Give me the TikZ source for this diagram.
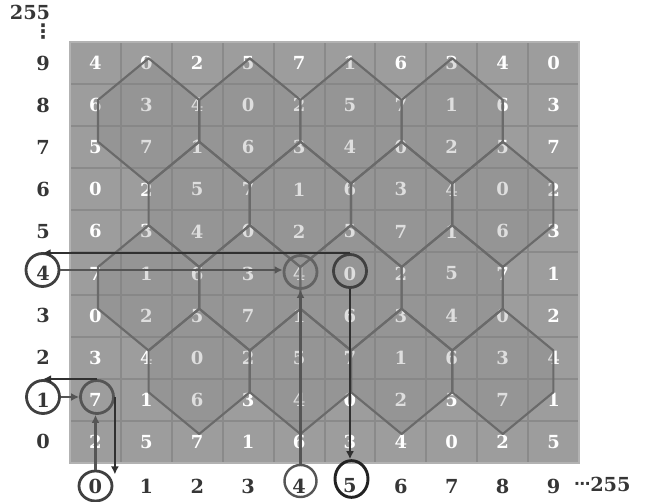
\documentclass[tikz,border=0pt]{standalone}
\usepackage{fontspec}
\setmainfont{DejaVu Serif}
\newfontfamily\symfont{DejaVu Sans}
\usetikzlibrary{arrows.meta,calc,shapes.geometric}
\definecolor{cellbg}{HTML}{9D9D9D}
\definecolor{cellline}{HTML}{8A8A8A}
\definecolor{gridborder}{HTML}{B2B2B2}
\definecolor{hexline}{HTML}{6A6A6A}
\definecolor{labtext}{HTML}{363636}
\definecolor{darkarrow}{HTML}{303030}
\definecolor{midarrow}{HTML}{555555}
\definecolor{ringdark}{HTML}{404040}
\definecolor{ringmid}{HTML}{555555}
\definecolor{ringlight}{HTML}{636363}
\definecolor{ringblack}{HTML}{222222}
\begin{document}
\begin{tikzpicture}[x=0.75pt,y=-0.75pt,
  cell/.style={draw=cellline, line width=1.5pt, fill=cellbg, minimum width=38.175pt, minimum height=31.575pt, inner sep=0pt, outer sep=0pt, text=white, font=\fontsize{13.5}{15}\selectfont\bfseries},
  lab/.style={text=labtext, font=\fontsize{14.5}{16}\selectfont\bfseries, inner sep=0pt},
  hexfill/.style={fill=black!50, fill opacity=0.26},
  hexedge/.style={draw=hexline, line width=1.6pt, line join=round},
  ring/.style={circle, draw=#1, line width=2.1pt, minimum size=24.75pt, inner sep=0pt},
  qarrow/.style={draw=midarrow, line width=1.8pt, -{Latex[length=6pt,width=6pt]}},
  aarrow/.style={draw=darkarrow, line width=1.9pt, -{Latex[length=6pt,width=6pt]}}
]
\useasboundingbox (0,0) rectangle (647,502);

% cells
\foreach \j/\ds in {9/{4,0,2,5,7,1,6,3,4,0}, 8/{6,3,4,0,2,5,7,1,6,3}, 7/{5,7,1,6,3,4,0,2,5,7}, 6/{0,2,5,7,1,6,3,4,0,2}, 5/{6,3,4,0,2,5,7,1,6,3}, 4/{7,1,6,3,4,0,2,5,7,1}, 3/{0,2,5,7,1,6,3,4,0,2}, 2/{3,4,0,2,5,7,1,6,3,4}, 1/{7,1,6,3,4,0,2,5,7,1}, 0/{2,5,7,1,6,3,4,0,2,5}}{
  \foreach \d [count=\i from 0] in \ds {
    \node[cell] (c-\i-\j) at ({95.45+50.9*\i},{441.95-42.1*\j}) {\d};
  }
}
\draw[gridborder, line width=1.5pt] (c-0-9.north west) rectangle (c-9-0.south east);

% hexagon fills
\foreach \t/\cols in {9/{1,3,5,7}, 7/{2,4,6,8}, 5/{1,3,5,7}, 3/{2,4,6,8}} {
  \foreach \c in \cols {
    \fill[hexfill] ({98+50.6*\c},{434-41.75*\t}) -- ({98+50.6*(\c+1)},{434-41.75*(\t-1)}) -- ({98+50.6*(\c+1)},{434-41.75*(\t-2)}) -- ({98+50.6*\c},{434-41.75*(\t-3)}) -- ({98+50.6*(\c-1)},{434-41.75*(\t-2)}) -- ({98+50.6*(\c-1)},{434-41.75*(\t-1)}) -- cycle;
  }
}
% hexagon edges
\foreach \t/\cols in {9/{1,3,5,7}, 7/{2,4,6,8}, 5/{1,3,5,7}, 3/{2,4,6,8}} {
  \foreach \c in \cols {
    \draw[hexedge] ({98+50.6*\c},{434-41.75*\t}) -- ({98+50.6*(\c+1)},{434-41.75*(\t-1)}) -- ({98+50.6*(\c+1)},{434-41.75*(\t-2)}) -- ({98+50.6*\c},{434-41.75*(\t-3)}) -- ({98+50.6*(\c-1)},{434-41.75*(\t-2)}) -- ({98+50.6*(\c-1)},{434-41.75*(\t-1)}) -- cycle;
  }
}

% axis labels
\foreach \j in {0,...,9} \node[lab] (r-\j) at (43,{441.95-42.1*\j}) {\j};
\foreach \i in {0,...,9} \node[lab] (k-\i) at ({95.45+50.9*\i},486) {\i};
\node[lab] (r-top) at (30,12) {255};
\node[lab, font=\fontsize{15}{16}\selectfont\bfseries\symfont] (r-dots) at (43,32) {⋮};
\node[lab, anchor=west] (k-end) at (574,484) {{\symfont\fontsize{12}{13}\selectfont\bfseries\raisebox{1.5pt}{⋯}}255};

% rings
\node[ring=ringdark] (o-r4) at (42.5,270) {};
\node[ring=ringdark] (o-r1) at (43,397) {};
\node[ellipse, draw=ringdark, line width=2.1pt, minimum width=24.75pt, minimum height=22.5pt, inner sep=0pt] (o-c0) at (95.5,486) {};
\node[ring=ringmid, line width=1.8pt, minimum size=24pt] (o-c4) at (300.5,481) {};
\node[ellipse, draw=ringblack, line width=2.2pt, minimum width=24.75pt, minimum height=27.5pt, inner sep=0pt] (o-c5) at (351.5,479) {};
\node[ring=ringmid] (o-g7) at (97,397) {};
\node[ring=ringlight] (o-g4) at (300.5,272) {};
\node[ring=ringdark] (o-g0) at (350,271) {};

% arrows
\draw[qarrow] (o-r4.east) -- (o-r4.east -| o-g4.west);
\draw[aarrow] (o-g0.north) -- (o-g0.north -| o-r4.north);
\draw[qarrow] (o-c4.north) -- (o-c4.north |- o-g4.south);
\draw[aarrow] (o-g0.south) -- (o-g0.south |- o-c5.north);
\draw[qarrow] (o-r1.east) -- (o-r1.east -| o-g7.west);
\draw[aarrow] (o-g7.north) -- (o-g7.north -| o-r1.north);
\draw[qarrow] (o-c0.north) -- (o-c0.north |- o-g7.south);
\draw[aarrow] (o-g7.east) -- (o-g7.east |- o-c0.north east);
\end{tikzpicture}
\end{document}
